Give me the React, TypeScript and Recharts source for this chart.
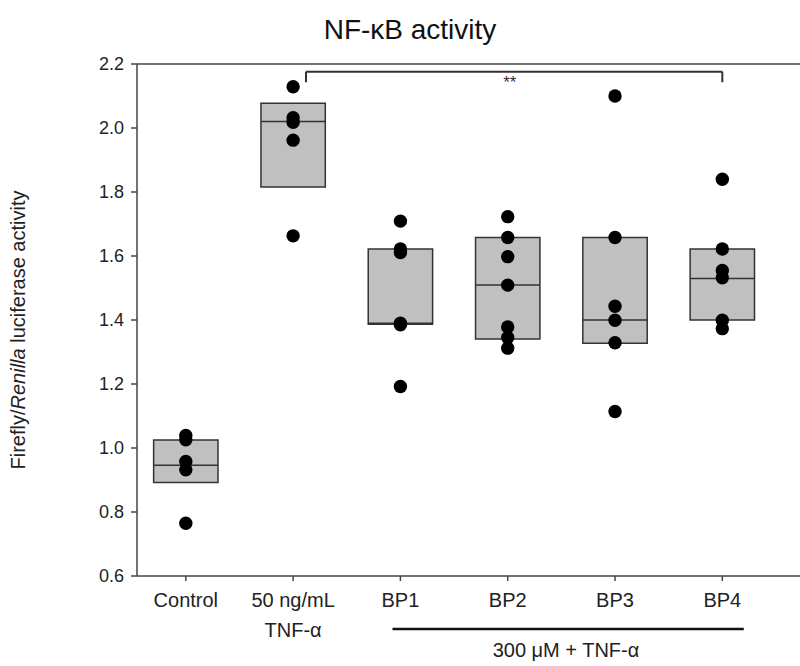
import {
  ComposedChart,
  Scatter,
  XAxis,
  YAxis,
  ReferenceArea,
  ReferenceLine,
  ReferenceDot,
} from "recharts";

const tickLines = [["Control"], ["50 ng/mL", "TNF-α"], ["BP1"], ["BP2"], ["BP3"], ["BP4"]];
const yTicks = [0.6, 0.8, 1.0, 1.2, 1.4, 1.6, 1.8, 2.0, 2.2];

const q1 = [0.892, 1.816, 1.387, 1.341, 1.327, 1.4];
const median = [0.946, 2.02, 1.39, 1.509, 1.4, 1.53];
const q3 = [1.025, 2.077, 1.622, 1.658, 1.658, 1.622];

const controlPts = [1.039, 1.026, 0.958, 0.932, 0.765];
const tnfPts = [2.129, 2.032, 2.018, 1.962, 1.663];
const bp1Pts = [1.709, 1.622, 1.611, 1.39, 1.385, 1.192];
const bp2Pts = [1.723, 1.658, 1.598, 1.509, 1.378, 1.345, 1.312];
const bp3Pts = [2.1, 1.658, 1.443, 1.399, 1.329, 1.114];
const bp4Pts = [1.84, 1.622, 1.555, 1.532, 1.399, 1.373];

const groups = [controlPts, tnfPts, bp1Pts, bp2Pts, bp3Pts, bp4Pts];
const points = groups.flatMap((vals, i) => vals.map((v) => ({ x: i, y: v })));

const font = "'Liberation Sans', Arial, sans-serif";
const half = 0.3;

function CategoryTick({ x, y, payload }: any) {
  const lines = tickLines[payload.value] || [];
  return (
    <text x={x} y={y} textAnchor="middle" fontSize={20} fill="#222" fontFamily={font}>
      {lines.map((l, k) => (
        <tspan key={k} x={x} dy={k === 0 ? 24 : 30}>
          {l}
        </tspan>
      ))}
    </text>
  );
}

export default function App() {
  return (
    <div style={{ position: "absolute", left: 0, top: 0, width: 800, height: 666, overflow: "hidden", background: "#fff" }}>
      <div
        style={{
          position: "absolute",
          left: 0,
          width: 820,
          top: 14,
          textAlign: "center",
          fontFamily: font,
          fontSize: 28,
          color: "#111",
        }}
      >
        NF-κB activity
      </div>
      <ComposedChart width={800} height={666} margin={{ top: 64, right: 0, bottom: 0, left: 0 }} data={points}>
        <XAxis
          type="number"
          dataKey="x"
          domain={[-0.455, 5.724]}
          ticks={[0, 1, 2, 3, 4, 5]}
          allowDataOverflow
          height={90}
          tick={<CategoryTick />}
          tickSize={5}
          stroke="#444"
          strokeWidth={1.5}
        />
        <YAxis
          type="number"
          dataKey="y"
          domain={[0.6, 2.2]}
          ticks={yTicks}
          allowDataOverflow
          width={137}
          tickSize={6}
          tickMargin={7}
          tickFormatter={(v: number) => v.toFixed(1)}
          tick={{ fontSize: 18, fill: "#222", fontFamily: font }}
          stroke="#444"
          strokeWidth={1.5}
          label={{
            content: () => (
              <text
                x={0}
                y={0}
                transform="translate(25, 330) rotate(-90)"
                textAnchor="middle"
                fontSize={20}
                fill="#222"
                fontFamily={font}
              >
                <tspan>Firefly/</tspan>
                <tspan fontStyle="italic">Renilla</tspan>
                <tspan> luciferase activity</tspan>
              </text>
            ),
          }}
        />
        <ReferenceLine y={2.2} stroke="#444" strokeWidth={1.5} />
        {groups.map((_, i) => (
          <ReferenceArea
            key={"box" + i}
            x1={i - half}
            x2={i + half}
            y1={q1[i]}
            y2={q3[i]}
            fill="#c0c0c0"
            fillOpacity={1}
            stroke="#333"
            strokeWidth={1.5}
          />
        ))}
        {groups.map((_, i) => (
          <ReferenceLine
            key={"med" + i}
            segment={[
              { x: i - half, y: median[i] },
              { x: i + half, y: median[i] },
            ]}
            stroke="#333"
            strokeWidth={1.5}
          />
        ))}
        <ReferenceLine segment={[{ x: 1.12, y: 2.176 }, { x: 5, y: 2.176 }]} stroke="#333" strokeWidth={2} />
        <ReferenceLine segment={[{ x: 1.12, y: 2.176 }, { x: 1.12, y: 2.143 }]} stroke="#333" strokeWidth={2} />
        <ReferenceLine segment={[{ x: 5, y: 2.176 }, { x: 5, y: 2.143 }]} stroke="#333" strokeWidth={2} />
        <ReferenceDot
          x={3.02}
          y={2.145}
          r={0}
          fill="none"
          stroke="none"
          label={{ value: "**", position: "center", fontSize: 17, fill: "#333", fontFamily: font }}
        />
        <ReferenceLine
          segment={[{ x: 1.926, y: 0.434 }, { x: 5.2, y: 0.434 }]}
          ifOverflow="visible"
          stroke="#111"
          strokeWidth={2.5}
        />
        <ReferenceDot
          x={3.543}
          y={0.37}
          r={0}
          fill="none"
          stroke="none"
          ifOverflow="visible"
          label={{ value: "300 μM + TNF-α", position: "center", fontSize: 20, fill: "#222", fontFamily: font }}
        />
        <Scatter
          data={points}
          isAnimationActive={false}
          shape={(p: any) => <circle cx={p.cx} cy={p.cy} r={6.7} fill="#000" />}
        />
      </ComposedChart>
    </div>
  );
}
